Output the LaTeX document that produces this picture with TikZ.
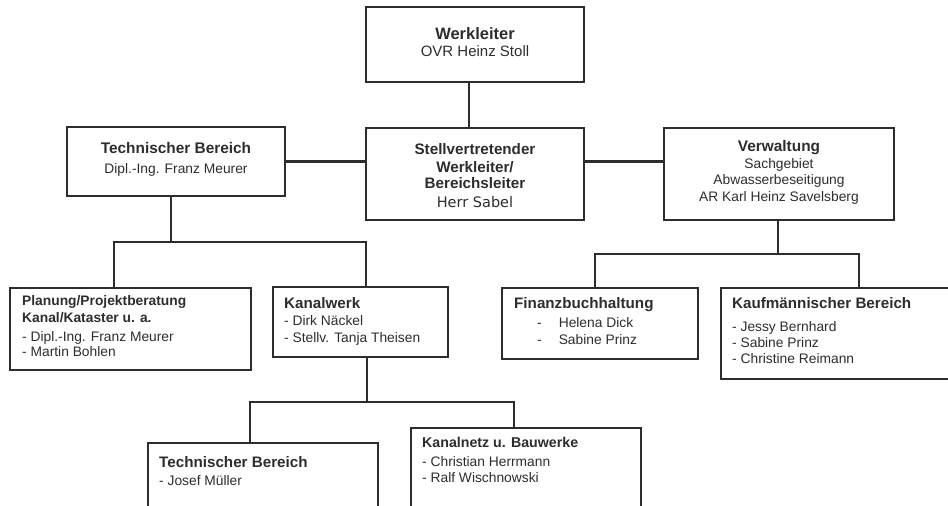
\documentclass[tikz,border=0pt]{standalone}
\usepackage{fontspec}
\setmainfont{Liberation Sans}
\newfontfamily\sabelfont{DejaVu Sans}
\usepackage{xcolor}
\newcommand\boxhead[2][15.2]{{\fontsize{#1}{16.5}\selectfont\bfseries #2}}

\begin{document}
\begin{tikzpicture}[x=1pt,y=-1pt]
    \pgfmathsetmacro{\lw}{2.1}
    \definecolor{ink}{RGB}{45,45,45}
    \tikzset{box/.style={draw=ink,line width=\lw pt,rectangle,inner sep=0pt},
             txt/.style={inner sep=0pt,text=ink,font=\fontsize{13.8}{16.5}\selectfont},
             wire/.style={draw=ink,line width=\lw pt}}
    \useasboundingbox (0,0) rectangle (948,506);
    \node[box,minimum width=218,minimum height=75] (wl) at (475,44.5) {};
    \node[box,minimum width=218,minimum height=92] (sv) at (475,174) {};
    \node[box,minimum width=218,minimum height=69] (tb) at (176,161.5) {};
    \node[box,minimum width=230,minimum height=92] (vw) at (779,174) {};
    \node[box,minimum width=241,minimum height=82] (pl) at (130.5,329) {};
    \node[box,minimum width=175,minimum height=70] (kw) at (360.5,322) {};
    \node[box,minimum width=196,minimum height=71] (fb) at (600,323.5) {};
    \node[box,minimum width=231,minimum height=91] (km) at (836.5,333.5) {};
    \node[box,minimum width=230,minimum height=69] (tbt) at (263,477.5) {};
    \node[box,minimum width=230,minimum height=84] (kn) at (526,470) {};

    \node[txt,anchor=north,align=center] (wltxt) at (475,27) {{\fontsize{16.5}{17}\selectfont\bfseries Werkleiter}\\[0.5pt]{\fontsize{15}{17}\selectfont OVR Heinz Stoll}};
    \node[txt,anchor=north,align=center] (svtxt) at (475,143.5) {\boxhead{Stellvertretender}\\[1pt]\boxhead{Werkleiter/}\\\boxhead{Bereichsleiter}\\[2pt]{\sabelfont\fontsize{14.5}{16.5}\selectfont Herr Sabel}};
    \node[txt,anchor=north,align=center] (tbtxt) at (176,142.5) {\boxhead[15.4]{Technischer Bereich}\\[3.5pt]Dipl.-Ing. Franz Meurer};
    \node[txt,anchor=north,align=center] (vwtxt) at (779,140.5) {\boxhead[15.4]{Verwaltung}\\Sachgebiet\\Abwasserbeseitigung\\AR Karl Heinz Savelsberg};
    \node[txt,anchor=north west,align=left] (pltxt) at (22,295.5) {\boxhead[13.8]{Planung/Projektberatung}\\[0.5pt]\boxhead[13.8]{Kanal/Kataster u. a.}\\[2.5pt]- Dipl.-Ing. Franz Meurer\\[-1.5pt]- Martin Bohlen};
    \node[txt,anchor=north west,align=left] (kwtxt) at (284,297.5) {\boxhead{Kanalwerk}\\[0.5pt]- Dirk Näckel\\[0.5pt]- Stellv. Tanja Theisen};
    \node[txt,anchor=north west,align=left] (fbtxt) at (514,297.5) {\boxhead{Finanzbuchhaltung}\\[2.5pt]\hspace*{23pt}-\hspace*{17pt}Helena Dick\\\hspace*{23pt}-\hspace*{17pt}Sabine Prinz};
    \node[txt,anchor=north west,align=left] (kmtxt) at (732,297.5) {\boxhead{Kaufmännischer Bereich}\\[6.5pt]- Jessy Bernhard\\[-0.5pt]- Sabine Prinz\\[-0.5pt]- Christine Reimann};
    \node[txt,anchor=north west,align=left] (tbttxt) at (159,456.5) {\boxhead{Technischer Bereich}\\[1.5pt]- Josef Müller};
    \node[txt,anchor=north west,align=left] (kntxt) at (422,437.5) {\boxhead[14.2]{Kanalnetz u. Bauwerke}\\[2.5pt]- Christian Herrmann\\[-0.5pt]- Ralf Wischnowski};

    \coordinate (tbbus) at (171,242);
    \coordinate (vwbus) at (778,254);
    \coordinate (kwbus) at (367,402);
    \draw[wire] ([xshift=-6]wl.south) -- ([xshift=-6]sv.north);
    \draw[wire] (tb.east) -- (tb.east -| sv.west);
    \draw[wire] (tb.east -| sv.east) -- (tb.east -| vw.west);
    \draw[wire] ([xshift=-5]tb.south) -- (tbbus);
    \draw[wire] ([xshift=-16.5]pl.north) |- (tbbus) -| ([xshift=5.5]kw.north);
    \draw[wire] ([xshift=-1]vw.south) -- (vwbus);
    \draw[wire] ([xshift=-5]fb.north) |- (vwbus) -| ([xshift=22.5]km.north);
    \draw[wire] ([xshift=6.5]kw.south) -- (kwbus);
    \draw[wire] ([xshift=-13]tbt.north) |- (kwbus) -| ([xshift=-12]kn.north);
\end{tikzpicture}
\end{document}
